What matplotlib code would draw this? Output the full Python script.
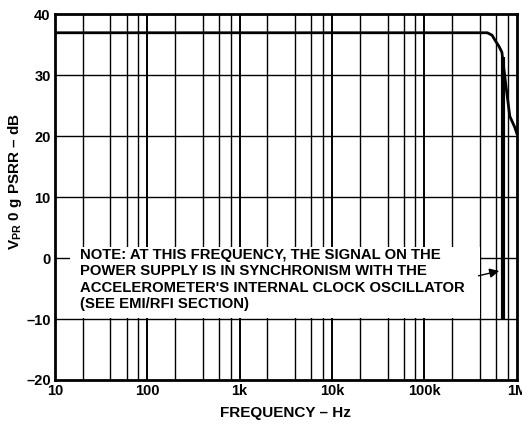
import numpy as np
import matplotlib
matplotlib.use("Agg")
import matplotlib.pyplot as plt
from matplotlib.patches import Rectangle

plt.rcParams["font.family"] = ["Liberation Sans", "DejaVu Sans"]
plt.rcParams["font.weight"] = "bold"
plt.rcParams["mathtext.fontset"] = "custom"
plt.rcParams["mathtext.rm"] = "Liberation Sans:bold"
plt.rcParams["mathtext.bf"] = "Liberation Sans:bold"

# PSRR curve
freq = [10, 100, 1e3, 1e4, 1e5, 4.8e5, 5.4e5, 5.8e5, 6.4e5, 6.9e5, 7.6e5, 8.4e5, 9.5e5, 1e6]
psrr = [37, 37, 37, 37, 37, 37, 36.6, 35.8, 34.8, 33.8, 28.5, 23.3, 21.5, 20.5]

# spike at the clock frequency
spike_f = 7.18e5
spike_top = 33
spike_bottom = -10

xticks = [10, 100, 1e3, 1e4, 1e5, 1e6]
xticklabels = ["10", "100", "1k", "10k", "100k", "1M"]
yticks = [-20, -10, 0, 10, 20, 30, 40]
yticklabels = ["\u201320", "\u201310", "0", "10", "20", "30", "40"]

note = ("NOTE: AT THIS FREQUENCY, THE SIGNAL ON THE\n"
        "POWER SUPPLY IS IN SYNCHRONISM WITH THE\n"
        "ACCELEROMETER'S INTERNAL CLOCK OSCILLATOR\n"
        "(SEE EMI/RFI SECTION)")

fig = plt.figure(figsize=(5.22, 4.26), dpi=100)
ax = fig.add_axes([0.105, 0.108, 0.885, 0.858])

ax.set_xscale("log")
ax.set_xlim(10, 1e6)
ax.set_ylim(-20, 40)

# grid: decades plus 2, 4, 6, 8
minor = [m * 10**d for d in range(1, 6) for m in (2, 4, 6, 8)]
for x in minor:
    ax.axvline(x, color="black", lw=1.0, zorder=1)
for x in xticks[1:-1]:
    ax.axvline(x, color="black", lw=1.4, zorder=1)
for y in yticks[1:-1]:
    ax.axhline(y, color="black", lw=1.0, zorder=1)

ax.plot(freq, psrr, color="black", lw=2.0, zorder=4)
ax.vlines(spike_f, spike_bottom, spike_top, color="black", lw=3.0, zorder=4)

ax.add_patch(Rectangle((14.5, -9.8), 3.98e5 - 14.5, 11.6, facecolor="white",
                       edgecolor="none", zorder=2))
ax.text(18.6, 1.7, note, fontsize=10.7, fontweight="bold", va="top", ha="left",
        linespacing=1.22, zorder=3)
ax.annotate("", xy=(6.9e5, -2.0), xytext=(3.6e5, -3.0),
            arrowprops=dict(arrowstyle="-|>", color="black", lw=1.0,
                            mutation_scale=14), zorder=5)

ax.set_xticks(xticks)
ax.set_xticklabels(xticklabels)
ax.set_xticks([], minor=True)
ax.set_yticks(yticks)
ax.set_yticklabels(yticklabels)
ax.tick_params(length=0, labelsize=10.5, pad=3)
for lab in ax.get_xticklabels() + ax.get_yticklabels():
    lab.set_fontweight("bold")

for s in ax.spines.values():
    s.set_linewidth(2.0)

ax.set_xlabel("FREQUENCY \u2013 Hz", fontsize=11, fontweight="bold", labelpad=6)
fig.text(15 / 522, 1 - 181 / 426, "V$_{\\mathrm{PR}}$ 0 g PSRR \u2013 dB",
         fontsize=11, fontweight="bold", rotation=90, ha="center", va="center")

fig.savefig("out.png", dpi=100)
